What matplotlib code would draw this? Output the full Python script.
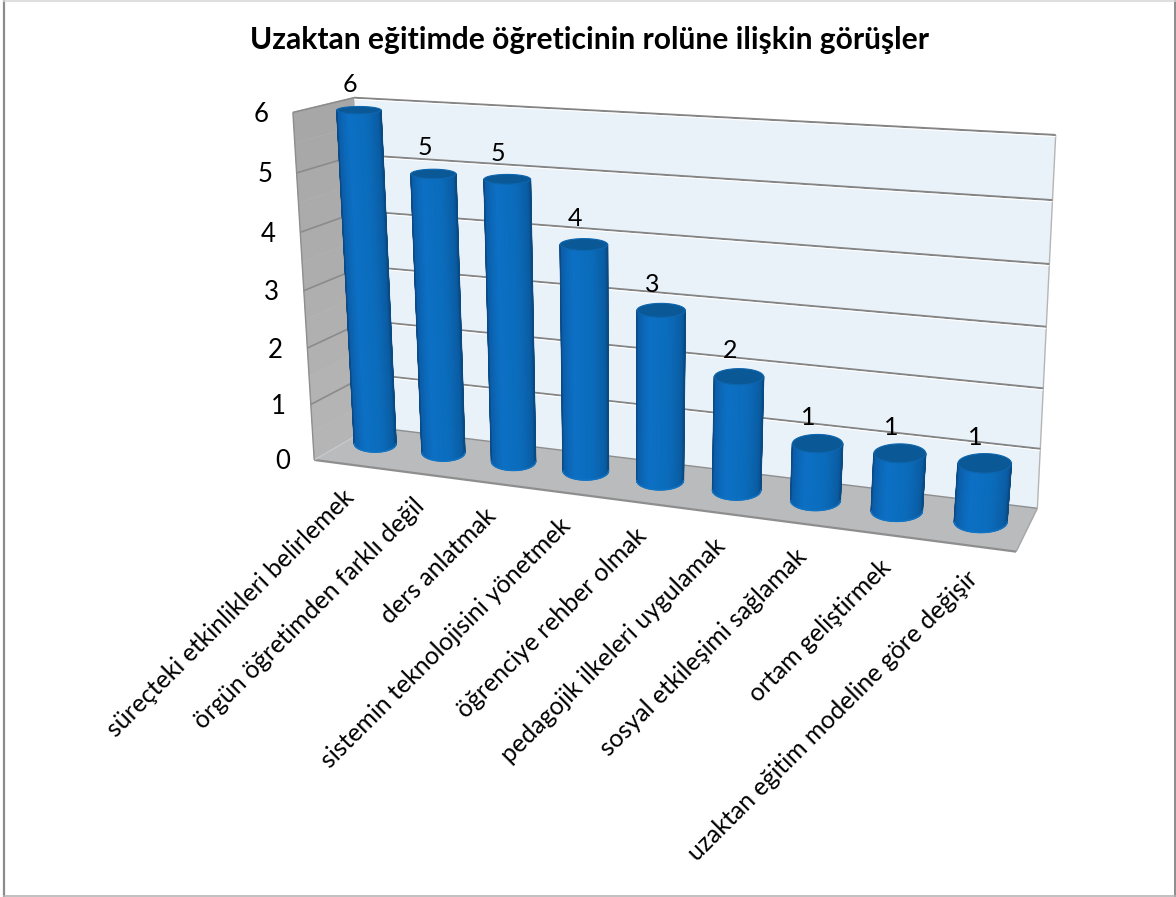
import numpy as np
import matplotlib
matplotlib.use('Agg')
import matplotlib.pyplot as plt
from matplotlib.colors import LinearSegmentedColormap

title = 'Uzaktan eğitimde öğreticinin rolüne ilişkin görüşler'
categories = ['süreçteki etkinlikleri belirlemek', 'örgün öğretimden farklı değil', 'ders anlatmak',
              'sistemin teknolojisini yönetmek', 'öğrenciye rehber olmak', 'pedagojik ilkeleri uygulamak',
              'sosyal etkileşimi sağlamak', 'ortam geliştirmek', 'uzaktan eğitim modeline göre değişir']
values = [6, 5, 5, 4, 3, 2, 1, 1, 1]
yticks = [0, 1, 2, 3, 4, 5, 6]

plt.rcParams['font.family'] = ['Lato', 'DejaVu Sans']

# camera fit for the box: (category, value, depth) -> pixel, depth 0 is front, 1 is back
world = np.array([(0, 6, 1), (9, 6, 1), (9, 0, 1), (0, 0, 1), (0, 6, 0), (0, 0, 0), (9, 0, 0), (9, 5, 1), (9, 1, 1),
                  (0, 5, 0), (0, 4, 0), (0, 3, 0)], float)
pix = np.array([(353, 98), (1056, 135), (1037, 507), (372, 427), (293, 112), (313, 460), (1016, 552), (1052, 200),
                (1041, 450), (297, 173), (301, 233), (304, 290)], float)
A, b = [], []
for (X, Y, Z), (u, v) in zip(world, pix):
    A.append([X, Y, Z, 1, 0, 0, 0, 0, -u*X, -u*Y, -u*Z])
    b.append(u)
    A.append([0, 0, 0, 0, X, Y, Z, 1, -v*X, -v*Y, -v*Z])
    b.append(v)
p = np.linalg.lstsq(np.array(A), np.array(b), rcond=None)[0]
P = np.append(p, 1).reshape(3, 4)

# second fit for the plane through the cylinder axes: (category, value) -> pixel
top_xy = [(360, 109), (434, 175), (507, 178), (583, 245), (660, 310), (738, 378), (817, 445.5), (900, 456), (985, 464)]
base_xy = [(375, 444), (443, 453), (513, 462), (586, 471), (662, 480), (737, 489.5), (815, 500), (896, 509), (982, 520)]
A, b = [], []
for i, val in enumerate(values):
    for Y, (u, v) in ((val, top_xy[i]), (0, base_xy[i])):
        X = i + .5
        A.append([X, Y, 1, 0, 0, 0, -u*X, -u*Y])
        b.append(u)
        A.append([0, 0, 0, X, Y, 1, -v*X, -v*Y])
        b.append(v)
H = np.append(np.linalg.lstsq(np.array(A), np.array(b), rcond=None)[0], 1).reshape(3, 3)


def proj(x, y, z):
    x, y, z = np.broadcast_arrays(x, y, z)
    h = P @ np.vstack([x.ravel(), y.ravel(), z.ravel(), np.ones(x.size)])
    return h[0]/h[2], h[1]/h[2]


def pt(x, y, z):
    u, v = proj(x, y, z)
    return u[0], v[0]


def axis_pt(x, y):
    h = H @ np.array([x, y, 1.0])
    return h[0]/h[2], h[1]/h[2]


def quad(ax, pts, **kw):
    xy = [pt(*q) for q in pts]
    ax.fill([q[0] for q in xy], [q[1] for q in xy], **kw)


def line(ax, a, b, **kw):
    p0, p1 = pt(*a), pt(*b)
    ax.plot([p0[0], p1[0]], [p0[1], p1[1]], solid_capstyle='butt', **kw)


def ellipse(cx, v, th):
    # excel keeps the cap flat on screen, so size it from the camera and lay it level
    x0, y0 = axis_pt(cx, v)
    w = (axis_pt(cx+rx, v)[0] - axis_pt(cx-rx, v)[0])/2
    h = abs(pt(cx, v, .5+rz)[1] - pt(cx, v, .5-rz)[1])/2
    return x0 + w*np.cos(th), y0 - h*np.sin(th)


cyl = LinearSegmentedColormap.from_list('cyl', [(0, '#0a4a86'), (.1, '#0b5ca6'), (.35, '#0c70c4'), (.6, '#0b6cbc'),
                                                (.85, '#0a5ca2'), (1, '#094a82')])

fig = plt.figure(figsize=(11.76, 8.97), dpi=100)
ax = fig.add_axes([0, 0, 1, 1])
ax.set_xlim(0, 1176)
ax.set_ylim(897, 0)
ax.axis('off')

# chart border
ax.plot([4, 4], [0, 897], color='#8c8c8c', lw=1.6)
ax.plot([1174.5, 1174.5], [0, 897], color='#8c8c8c', lw=1.4)
ax.plot([4, 1175], [0.7, 0.7], color='#d9d9d9', lw=1.2)
ax.plot([4, 1175], [896, 896], color='#b5b5b5', lw=1.2)

n = len(categories)
top = max(yticks)

# walls and floor
quad(ax, [(0, 0, 1), (n, 0, 1), (n, top, 1), (0, top, 1)], color='#e9f1f9', lw=0)
for k in range(12):
    y0, y1 = top*k/12, top*(k+1)/12
    g = 0.71 - 0.06*k/12
    quad(ax, [(0, y0, 0), (0, y0, 1), (0, y1, 1), (0, y1, 0)], color=(g, g, g), lw=.3)
quad(ax, [(0, 0, 0), (n, 0, 0), (n, 0, 1), (0, 0, 1)], color='#b9bbbd', lw=0)
line(ax, (0, 0, 0), (n, 0, 0), color='#8e8e8e', lw=1.6)
line(ax, (n, 0, 0), (n, 0, 1), color='#a5a5a5', lw=1)
line(ax, (0, 0, 0), (0, 0, 1), color='#c8c8c8', lw=1)
line(ax, (0, 0, 1), (n, 0, 1), color='#8e8e8e', lw=1)
line(ax, (n, 0, 1), (n, top, 1), color='#b5b5b5', lw=1)
line(ax, (0, 0, 0), (0, top, 0), color='#8e8e8e', lw=1)
line(ax, (0, top, 0), (0, top, 1), color='#c0c0c0', lw=1)
for v in yticks[1:]:
    line(ax, (0, v, 1), (n, v, 1), color='#858585', lw=1.5)
    line(ax, (0, v-.025, 1), (n, v-.025, 1), color='#ffffff', lw=.8)
    line(ax, (0, v, 0), (0, v, 1), color='#8b8b8b', lw=1.2)

# cylinders, left to right
rx, rz = 0.31, 0.25
front = np.linspace(np.pi, 2*np.pi, 61)
whole = np.linspace(0, 2*np.pi, 121)
for i, val in enumerate(values):
    cx = i + .5
    bx, by = ellipse(cx, 0, front)
    tx, ty = ellipse(cx, val, front)
    X = np.vstack([bx, tx])
    Y = np.vstack([by, ty])
    C = np.vstack([(front-np.pi)/np.pi, (front-np.pi)/np.pi])
    ax.pcolormesh(X, Y, C, cmap=cyl, vmin=0, vmax=1, shading='gouraud', zorder=3)
    # soften the mesh edges
    ax.plot(X[:, 0], Y[:, 0], color='#0a4a86', lw=1, zorder=3.1)
    ax.plot(X[:, -1], Y[:, -1], color='#094a82', lw=1, zorder=3.1)
    ax.plot(bx, by, color='#1274c4', lw=1, zorder=3.1)
    ex, ey = ellipse(cx, val, whole)
    ax.fill(ex, ey, color='#0a5896', ec='#0d66ae', lw=.8, zorder=3.2)
    # data label
    lx, ly = axis_pt(cx, val)
    ax.text(lx-9, ly-26, str(val), fontsize=18, color='black', ha='center', va='center', zorder=4)

# axis labels
for v in yticks:
    lx, ly = pt(0, v, 0)
    ax.text(lx-32, ly+2, str(v), fontsize=18.5, color='black', ha='center', va='center')
for i, c in enumerate(categories):
    lx, ly = pt(i+.5, 0, 0)
    ax.text(lx-6, ly+21, c, fontsize=17.9, color='black', rotation=45, rotation_mode='anchor', ha='right', va='top')

ax.text(590, 40, title, fontsize=21.6, fontweight='bold', color='black', ha='center', va='center')

fig.savefig('out.png', dpi=100)
